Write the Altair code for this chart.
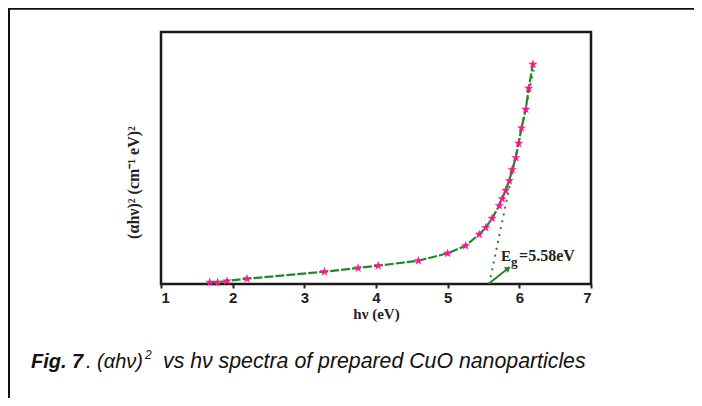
import altair as alt
import pandas as pd

# data
hv = [1.68, 1.79, 1.92, 2.20, 3.28, 3.75, 4.03, 4.59, 5.00, 5.25, 5.44, 5.53, 5.62,
      5.72, 5.76, 5.81, 5.86, 5.90, 5.95, 5.99, 6.03, 6.09, 6.13, 6.19]
ahv2 = [1.7, 1.7, 3.0, 5.3, 12.3, 16.0, 18.3, 23.3, 30.7, 38.3, 49.7, 56.3, 65.7,
        78.3, 85.3, 93.7, 103.3, 114.3, 126.3, 140.7, 156.0, 174.7, 195.7, 219.7]

# extrapolation (tangent) line
tan_x = [5.58, 6.20]
tan_y = [0.0, 214.0]
# arrow
arr_x = [5.58, 5.845]
arr_y = [0.7, 15.7]

x_ticks = [1, 1.5, 2, 2.5, 3, 3.5, 4, 4.5, 5, 5.5, 6, 6.5, 7]

GREEN = "#23862a"
PINK = "#ff1493"
STAR = "M0,-1L0.2245,-0.309L0.951,-0.309L0.363,0.118L0.588,0.809L0,0.382L-0.588,0.809L-0.363,0.118L-0.951,-0.309L-0.2245,-0.309Z"

df = pd.DataFrame({"hv": hv, "y": ahv2})
tan_df = pd.DataFrame({"hv": tan_x, "y": tan_y})
arr_df = pd.DataFrame({"hv": arr_x, "y": arr_y})

xscale = alt.Scale(domain=[1, 7], nice=False, zero=False)
yscale = alt.Scale(domain=[0, 252], nice=False)

x_enc = alt.X("hv:Q", scale=xscale,
              axis=alt.Axis(values=x_ticks, title="hν (eV)",
                            labelExpr="datum.value % 1 == 0 ? format(datum.value, 'd') : ''",
                            labelFont="Liberation Sans", labelFontWeight="bold",
                            labelFontSize=15, labelColor="#222", labelPadding=2,
                            tickSize=4, tickWidth=2, tickColor="#222",
                            domain=False, grid=False,
                            titleFont="Liberation Serif", titleFontWeight="bold",
                            titleFontSize=15, titleColor="#222", titlePadding=1))
y_enc = alt.Y("y:Q", scale=yscale,
              axis=alt.Axis(title="(αhν)² (cm⁻¹ eV)²", labels=False, ticks=False,
                            domain=False, grid=False, titleY=150,
                            titleFont="Liberation Serif", titleFontWeight="bold",
                            titleFontSize=16, titleColor="#222", titlePadding=20))

curve = alt.Chart(df).mark_line(color=GREEN, strokeWidth=2.2, strokeDash=[9, 2]).encode(x=x_enc, y=y_enc)
stars = alt.Chart(df).mark_point(shape=STAR, filled=True, color=PINK, size=95, opacity=1).encode(x="hv:Q", y="y:Q")
tangent = alt.Chart(tan_df).mark_line(color=GREEN, strokeWidth=2, strokeDash=[2, 5]).encode(x="hv:Q", y="y:Q")
arrow = alt.Chart(arr_df).mark_line(color=GREEN, strokeWidth=2).encode(x="hv:Q", y="y:Q")
head = alt.Chart(arr_df.iloc[[1]]).mark_point(shape="triangle-up", filled=True, color=GREEN,
                                              size=45, angle=52, opacity=1).encode(x="hv:Q", y="y:Q")

lab = pd.DataFrame({"hv": [5.745], "y": [23.3]})
eg_E = alt.Chart(lab).mark_text(text="E", align="left", baseline="alphabetic", font="Liberation Serif",
                                fontWeight="bold", fontSize=15, color="#222").encode(x="hv:Q", y="y:Q")
eg_g = alt.Chart(lab).mark_text(text="g", align="left", baseline="alphabetic", font="Liberation Serif",
                                fontWeight="bold", fontSize=13, color="#222", dx=10, dy=5).encode(x="hv:Q", y="y:Q")
eg_v = alt.Chart(lab).mark_text(text="=5.58eV", align="left", baseline="alphabetic", font="Liberation Serif",
                                fontWeight="bold", fontSize=16, color="#222", dx=18).encode(x="hv:Q", y="y:Q")

# caption and figure border
CAP_Y = 336
cap1 = alt.Chart(lab).mark_text(text="Fig. 7", align="left", baseline="alphabetic", font="Liberation Sans",
                                fontStyle="italic", fontWeight="bold", fontSize=20, color="#111"
                                ).encode(x=alt.value(-130), y=alt.value(CAP_Y))
cap2 = alt.Chart(lab).mark_text(text=". (αhν)", align="left",
                                baseline="alphabetic", font="Liberation Sans", fontStyle="italic",
                                fontSize=20, color="#111"
                                ).encode(x=alt.value(-75), y=alt.value(CAP_Y))
cap3 = alt.Chart(lab).mark_text(text="2", align="left",
                                baseline="alphabetic", font="Liberation Sans", fontStyle="italic",
                                fontSize=12, color="#111"
                                ).encode(x=alt.value(-16), y=alt.value(CAP_Y - 9))
cap4 = alt.Chart(lab).mark_text(text="vs hν spectra of prepared CuO nanoparticles", align="left",
                                baseline="alphabetic", font="Liberation Sans", fontStyle="italic",
                                fontSize=21.3, color="#111"
                                ).encode(x=alt.value(2), y=alt.value(CAP_Y))
top_line = alt.Chart(lab).mark_rule(color="#111", strokeWidth=2.5).encode(
    x=alt.value(-153), x2=alt.value(533), y=alt.value(-23.5))
left_line = alt.Chart(lab).mark_rule(color="#111", strokeWidth=2).encode(
    x=alt.value(-152), y=alt.value(-24), y2=alt.value(366))

chart = alt.layer(curve, tangent, arrow, head, stars, eg_E, eg_g, eg_v,
                  cap1, cap2, cap3, cap4, top_line, left_line).properties(
    width=430, height=252,
    autosize=alt.AutoSizeParams(type="none"),
    padding={"left": 153, "top": 24, "right": 103, "bottom": 114},
    background="white",
).configure_view(stroke="#1a1a1a", strokeWidth=2.5)

chart.save("out.html", embed_options={"renderer": "svg", "actions": False})
